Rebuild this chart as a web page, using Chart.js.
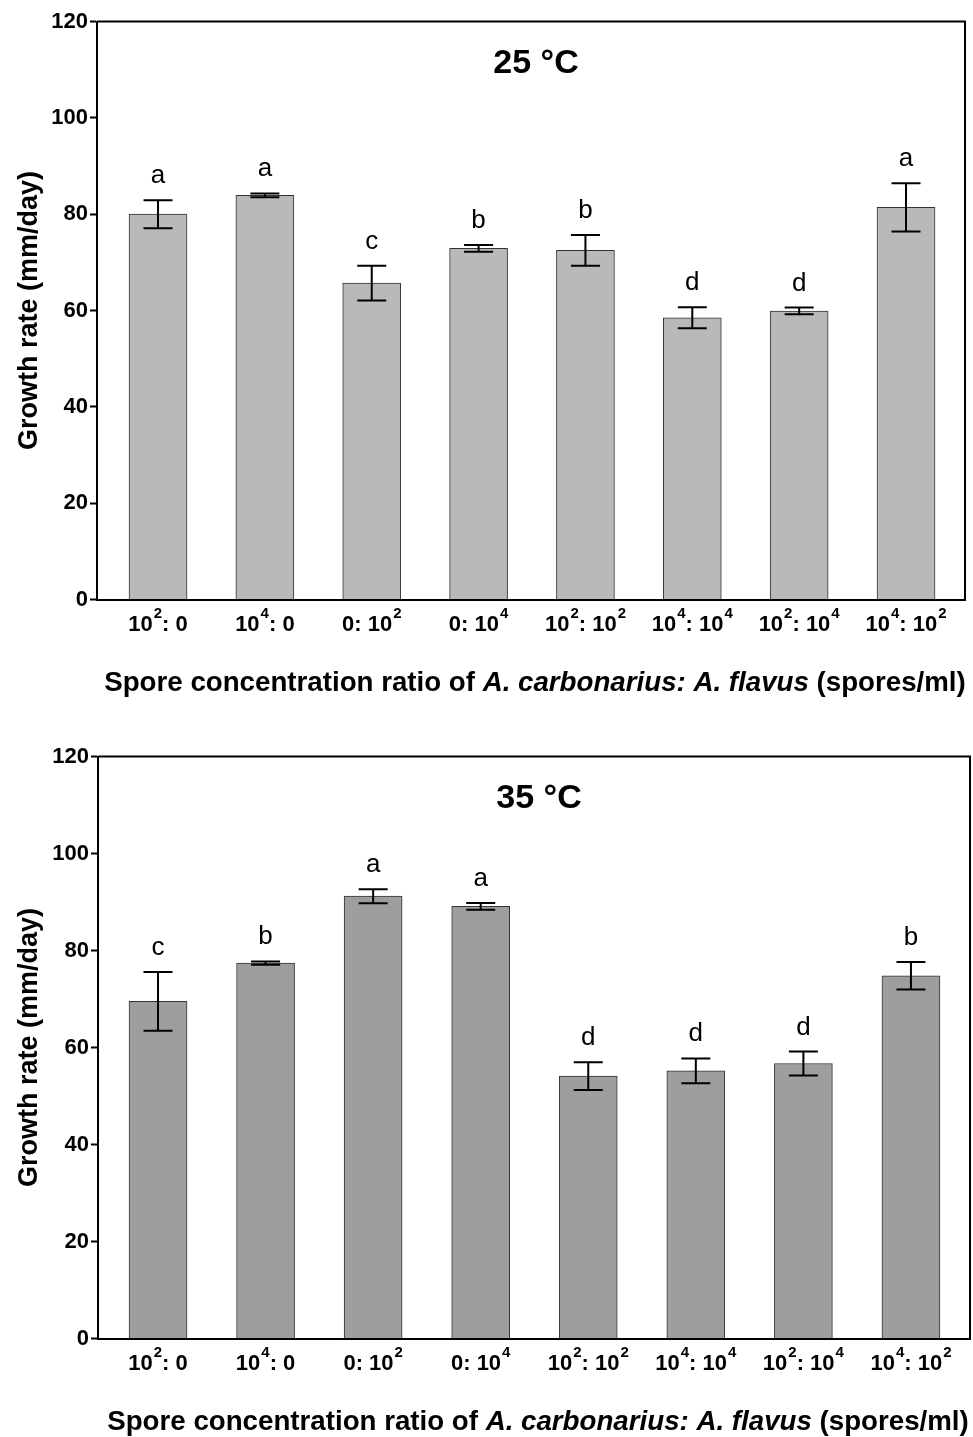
<!DOCTYPE html>
<html>
<head>
<meta charset="utf-8">
<script src="https://cdn.jsdelivr.net/npm/chart.js@4.4.1/dist/chart.umd.min.js"></script>
<style>
  html, body { margin: 0; padding: 0; background: #fff; }
  #wrap { width: 973px; height: 1437px; position: relative; }
  canvas { display: block; position: absolute; left: 0; }
</style>
</head>
<body>
<div id="wrap">
  <canvas id="chart25" width="973" height="718" style="top:0"></canvas>
  <canvas id="chart35" width="973" height="719" style="top:718px"></canvas>
</div>
<script>
// Chart data
const categories = ['10²: 0', '10⁴: 0', '0: 10²', '0: 10⁴', '10²: 10²', '10⁴: 10⁴', '10²: 10⁴', '10⁴: 10²'];

const rate25 = [80.0, 83.9, 65.7, 72.9, 72.5, 58.5, 59.9, 81.4];
const err25 = [2.9, 0.4, 3.6, 0.7, 3.2, 2.2, 0.7, 5.0];
const letters25 = ['a', 'a', 'c', 'b', 'b', 'd', 'd', 'a'];

const rate35 = [69.5, 77.4, 91.2, 89.1, 54.1, 55.2, 56.7, 74.8];
const err35 = [6.05, 0.35, 1.45, 0.7, 2.85, 2.55, 2.45, 2.85];
const letters35 = ['c', 'b', 'a', 'a', 'd', 'd', 'd', 'b'];

const yTicks = [0, 20, 40, 60, 80, 100, 120];

const FONT = "'Liberation Sans', Arial, sans-serif";
const SUP = { '²': '2', '⁴': '4' };
Chart.defaults.font.family = FONT;
Chart.defaults.color = '#000';

// split a label like "10²: 0" into normal / superscript runs
function labelRuns(label) {
    const runs = [];
    for (const ch of label) {
        const sup = ch in SUP;
        const text = sup ? SUP[ch] : ch;
        const last = runs[runs.length - 1];
        if (last && last.sup === sup) last.text += text;
        else runs.push({ text, sup });
    }
    return runs;
}

// Error bars, significance letters, frame, x labels, panel title and x-axis title
const decorPlugin = {
    id: 'decor',
    afterDatasetsDraw(chart) {
        const { ctx, chartArea, scales } = chart;
        const opts = chart.options.plugins.decor;
        const xs = scales.x, ys = scales.y;

        ctx.save();
        ctx.strokeStyle = '#000';
        ctx.fillStyle = '#000';
        ctx.lineWidth = 2;
        opts.values.forEach((v, i) => {
            const x = xs.getPixelForValue(i);
            const yt = ys.getPixelForValue(v + opts.errors[i]);
            const yb = ys.getPixelForValue(v - opts.errors[i]);
            ctx.beginPath();
            ctx.moveTo(x, yt); ctx.lineTo(x, yb);
            ctx.moveTo(x - 14.5, yt); ctx.lineTo(x + 14.5, yt);
            ctx.moveTo(x - 14.5, yb); ctx.lineTo(x + 14.5, yb);
            ctx.stroke();

            ctx.font = '26px ' + FONT;
            ctx.textAlign = 'center';
            ctx.textBaseline = 'alphabetic';
            ctx.fillText(opts.letters[i], x, yt - 17);
        });

        // category labels with raised exponents
        const mainFont = 'bold 22px ' + FONT;
        const supFont = 'bold 15px ' + FONT;
        const base = chartArea.bottom + 31;
        categories.forEach((label, i) => {
            const runs = labelRuns(label);
            let w = 0;
            runs.forEach(r => { ctx.font = r.sup ? supFont : mainFont; w += ctx.measureText(r.text).width + (r.sup ? 1 : 0); });
            let x = xs.getPixelForValue(i) - w / 2;
            ctx.textAlign = 'left';
            runs.forEach(r => {
                ctx.font = r.sup ? supFont : mainFont;
                ctx.fillText(r.text, x + (r.sup ? 1 : 0), r.sup ? base - 13 : base);
                x += ctx.measureText(r.text).width + (r.sup ? 1 : 0);
            });
        });

        // top and right frame lines
        ctx.beginPath();
        ctx.moveTo(chartArea.left, chartArea.top);
        ctx.lineTo(chartArea.right, chartArea.top);
        ctx.lineTo(chartArea.right, chartArea.bottom);
        ctx.stroke();

        // panel title
        const cx = (chartArea.left + chartArea.right) / 2;
        ctx.font = 'bold 34px ' + FONT;
        ctx.textAlign = 'center';
        ctx.textBaseline = 'middle';
        ctx.fillText(opts.title, cx + 5, chartArea.top + 42);

        // x-axis title with italic species names
        const parts = [
            ['bold 27.7px ' + FONT, 'Spore concentration ratio of '],
            ['italic bold 27.7px ' + FONT, 'A. carbonarius: A. flavus'],
            ['bold 27.7px ' + FONT, ' (spores/ml)']
        ];
        let total = 0;
        parts.forEach(p => { ctx.font = p[0]; total += ctx.measureText(p[1]).width; });
        let x = cx + 4 - total / 2;
        ctx.textAlign = 'left';
        ctx.textBaseline = 'alphabetic';
        parts.forEach(p => {
            ctx.font = p[0];
            ctx.fillText(p[1], x, chartArea.bottom + 91.5);
            x += ctx.measureText(p[1]).width;
        });
        ctx.restore();
    }
};

function makeChart(canvasId, values, errors, letters, title, color, layout) {
    const ctx = document.getElementById(canvasId).getContext('2d');
    return new Chart(ctx, {
        type: 'bar',
        data: {
            datasets: [{
                data: values.map((v, i) => ({ x: i, y: v })),
                backgroundColor: color,
                borderColor: '#333',
                borderWidth: 1,
                barThickness: 58
            }]
        },
        options: {
            responsive: false,
            animation: false,
            layout: { padding: { top: layout.top, right: layout.right, left: 0, bottom: 0 } },
            scales: {
                x: {
                    type: 'linear',
                    min: layout.xMin,
                    max: layout.xMax,
                    offset: false,
                    afterBuildTicks: (scale) => {
                        scale.ticks = categories.map((_, i) => ({ value: i }));
                    },
                    afterFit: (scale) => { scale.height = layout.xHeight; },
                    grid: { display: false, drawTicks: false },
                    border: { display: true, color: '#000', width: 2 },
                    ticks: { display: false }
                },
                y: {
                    min: 0,
                    max: 120,
                    afterBuildTicks: (scale) => {
                        scale.ticks = yTicks.map(v => ({ value: v }));
                    },
                    afterFit: (scale) => { scale.width = layout.yWidth; },
                    grid: {
                        drawOnChartArea: false,
                        drawTicks: true,
                        tickLength: 7,
                        tickWidth: 2,
                        tickColor: '#000'
                    },
                    border: { display: true, color: '#000', width: 2 },
                    ticks: {
                        padding: 2,
                        color: '#000',
                        font: { size: 22, weight: 'bold' }
                    },
                    title: {
                        display: true,
                        text: 'Growth rate (mm/day)',
                        color: '#000',
                        font: { size: 27, weight: 'bold' },
                        padding: { top: 13, bottom: 0 }
                    }
                }
            },
            plugins: {
                legend: { display: false },
                tooltip: { enabled: false },
                decor: { values, errors, letters, title }
            }
        },
        plugins: [decorPlugin]
    });
}

makeChart('chart25', rate25, err25, letters25, '25 °C', '#b8b9b8',
    { top: 21.5, right: 8, yWidth: 97, xHeight: 118.5, xMin: -0.571, xMax: 7.552 });
makeChart('chart35', rate35, err35, letters35, '35 °C', '#9d9e9d',
    { top: 38.5, right: 3, yWidth: 98, xHeight: 98.5, xMin: -0.558, xMax: 7.549 });
</script>
</body>
</html>
